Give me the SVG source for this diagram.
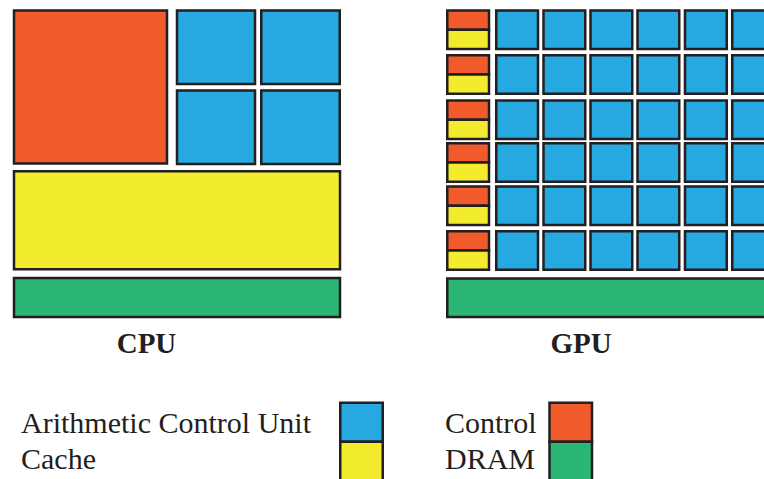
<svg xmlns="http://www.w3.org/2000/svg" width="764" height="479" viewBox="0 0 764 479">
<style>
.o,.b,.y,.g{stroke:#231f20;stroke-width:2.5}
.o{fill:#f15a2b}.b{fill:#26a8e0}.y{fill:#f3eb2e}.g{fill:#2bb673}
.t{font-family:"Liberation Serif","Times New Roman",serif;font-size:30px;fill:#231f20}
.h{font-family:"Liberation Serif","Times New Roman",serif;font-size:29px;font-weight:bold;fill:#231f20;text-anchor:middle}
</style>
<defs>
<g id="ctl"><rect class="o" x="447.25" y="0" width="41.75" height="19.25"/><rect class="y" x="447.25" y="19.25" width="41.75" height="19.25"/></g>
<g id="alurow">
<rect class="b" x="496.25" y="0" width="41.75" height="38.5"/>
<rect class="b" x="543.5" y="0" width="41.75" height="38.5"/>
<rect class="b" x="590.5" y="0" width="41.75" height="38.5"/>
<rect class="b" x="637.5" y="0" width="41.75" height="38.5"/>
<rect class="b" x="685" y="0" width="41.75" height="38.5"/>
<rect class="b" x="732.25" y="0" width="41.75" height="38.5"/>
</g>
</defs>
<rect width="764" height="479" fill="#ffffff"/>
<g id="cpu">
<rect class="o" x="14" y="10.5" width="153" height="153"/>
<rect class="b" x="177" y="10.5" width="78" height="73.5"/>
<rect class="b" x="261.25" y="10.5" width="78.5" height="73.5"/>
<rect class="b" x="177" y="90.5" width="78" height="73.5"/>
<rect class="b" x="261.25" y="90.5" width="78.5" height="73.5"/>
<rect class="y" x="14" y="171.25" width="326" height="98"/>
<rect class="g" x="14" y="278" width="326" height="39"/>
<text class="h" x="146.5" y="353">CPU</text>
</g>
<g id="gpu">
<use href="#ctl" y="10.5"/><use href="#alurow" y="10.5"/>
<use href="#ctl" y="55.25"/><use href="#alurow" y="55.25"/>
<use href="#ctl" y="100.5"/><use href="#alurow" y="100.5"/>
<use href="#ctl" y="143.25"/><use href="#alurow" y="143.25"/>
<use href="#ctl" y="186.5"/><use href="#alurow" y="186.5"/>
<use href="#ctl" y="231.25"/><use href="#alurow" y="231.25"/>
<rect class="g" x="447.25" y="278.5" width="330" height="38.5"/>
<text class="h" x="581" y="353">GPU</text>
</g>
<g id="legend">
<text class="t" x="21" y="433">Arithmetic Control Unit</text>
<text class="t" x="21" y="469">Cache</text>
<rect class="b" x="340.25" y="402.75" width="42.5" height="39"/>
<rect class="y" x="340.25" y="441.75" width="42.5" height="40"/>
<text class="t" x="445" y="433">Control</text>
<text class="t" x="445" y="469">DRAM</text>
<rect class="o" x="549.5" y="402.75" width="42.5" height="39"/>
<rect class="g" x="549.5" y="441.75" width="42.5" height="40"/>
</g>
</svg>
